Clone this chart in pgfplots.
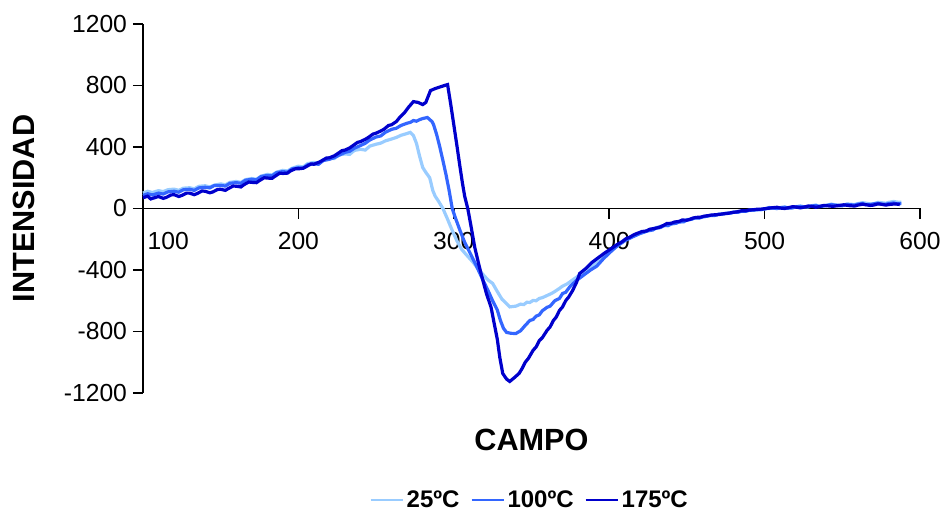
\documentclass[border=0pt]{standalone}
\usepackage{fontspec}
\setmainfont{Liberation Sans}
\usepackage{pgfplots}
\pgfplotsset{compat=1.18}
\definecolor{cLight}{RGB}{153,204,255}
\definecolor{cMed}{RGB}{51,102,255}
\definecolor{cDark}{RGB}{0,0,204}
\begin{document}
\begin{tikzpicture}
\begin{axis}[
  scale only axis,
  width=582.75pt, height=276.75pt,
  xmin=100, xmax=600, ymin=-1200, ymax=1200,
  axis y line*=left, axis x line*=middle,
  axis line style={line width=1.2pt, black},
  tick style={line width=1.2pt, black},
  tick align=outside,
  major tick length=7.5pt,
  xtick={200,300,400,500,600},
  xticklabels={200,300,400,500,600},
  extra x ticks={100},
  extra x tick labels={100},
  extra x tick style={xticklabel style={xshift=19pt}},
  ytick={-1200,-800,-400,0,400,800,1200},
  yticklabels={-1200,-800,-400,0,400,800,1200},
  tick label style={font=\fontsize{18.5}{21}\selectfont},
  yticklabel style={xshift=-1pt},
  xticklabel style={yshift=-7pt},
  xlabel={CAMPO}, ylabel={INTENSIDAD},
  xlabel style={font=\fontsize{23}{26}\selectfont\bfseries, at={(axis description cs:0.5,-0.127)}, anchor=center},
  ylabel style={font=\fontsize{23}{26}\selectfont\bfseries, at={(axis description cs:-0.153,0.5)}, anchor=center},
  legend style={draw=none, at={(axis description cs:0.498,-0.29)}, anchor=center,
    font=\fontsize{18}{21}\selectfont\bfseries, legend columns=3,
    /tikz/every even column/.append style={column sep=6pt}},
  legend image code/.code={\draw[#1, line width=2pt] (0pt,0pt) -- (24pt,0pt);},
  clip=false,
]
\addplot[cLight, line width=2.4pt] coordinates {
(100,100)(103,112)(106,104)(110,116)(113,110)(116,122)(120,126)(123,118)(126,132)(130,135)(133,128)(136,144)(140,148)(143,140)(146,152)
(150,160)(153,154)(156,170)(160,176)(163,170)(166,188)(170,195)(173,190)(176,210)(180,222)(183,218)(186,236)(190,248)(193,244)(196,262)
(200,275)(203,270)(206,292)(210,300)(213,296)(216,318)(220,330)(223,325)(226,348)(230,355)(233,352)(236,378)(240,385)(243,380)(246,406)
(250,418)(253,425)(256,440)(260,452)(263,462)(266,476)(268,482)(270,488)(272,495)(274,475)(276,423)(278,340)(280,267)
(282,235)(284.5,200)(286.5,117)(288,80)(290,50)(293,0)(296,-70)(299,-143)(302,-210)(305,-265)
(308,-300)(312,-345)(315,-383)(318,-420)(322,-465)(325,-487)(328,-540)(331,-590)(334,-620)(336,-640)
(340,-635)(343,-622)(345,-625)(347,-610)(349,-611)(351,-598)(353,-600)(355,-585)(357,-580)(360,-566)(363,-552)(365,-540)(368,-520)(370,-505)(373,-490)(376,-468)(380,-440)
(385,-400)(390,-365)(395,-320)(400,-280)(405,-245)(410,-205)(415,-180)(420,-160)(425,-145)(430,-125)
(435,-110)(438,-112)(440,-100)(443,-96)(445,-85)(448,-84)(450,-72)(453,-70)(455,-60)(458,-62)(460,-55)(463,-50)(465,-45)(468,-44)(470,-38)(473,-36)(475,-30)(478,-30)(480,-22)
(483,-24)(485,-18)(488,-16)(490,-12)(493,-12)(495,-8)(498,-8)(500,-2)(503,0)(505,2)(508,0)(510,6)(513,10)(515,5)(518,6)(520,12)(523,16)(525,10)(528,12)(530,18)
(533,22)(535,16)(538,18)(540,22)(543,28)(545,25)(548,22)(550,20)(553,30)(555,28)(558,26)(560,32)(563,38)(565,35)(568,30)(570,30)(573,40)(575,38)(578,34)(580,40)(583,46)(585,42)(588,40)
};
\addlegendentry{25ºC}
\addplot[cMed, line width=2.4pt] coordinates {
(100,85)(103,96)(106,88)(110,100)(113,94)(116,108)(120,112)(123,106)(126,122)(130,125)(133,118)(136,134)(140,138)(143,134)(146,150)
(150,150)(153,146)(156,164)(160,168)(163,164)(166,184)(170,190)(173,186)(176,208)(180,215)(183,212)(186,234)(190,240)(193,236)(196,258)
(200,265)(203,262)(206,284)(210,290)(213,288)(216,312)(220,320)(223,330)(226,346)(230,365)(233,372)(236,392)(240,410)(243,424)(246,446)
(250,465)(253,472)(256,496)(260,515)(263,522)(266,540)(270,555)(272,560)(274,572)(276,568)(278,578)(280,585)(283,592)(286,565)
(287,545)(289,480)(291,400)(293,312)(295,220)(297,117)(299,0)(301,-60)(304,-143)(307,-220)
(311,-300)(315,-383)(319,-470)(322,-533)(325,-600)(328,-660)(330,-728)(332,-780)(334,-806)(337,-812)
(340,-813)(343,-795)(346,-760)(349,-728)(351,-722)(353,-700)(355,-692)(357,-665)(360,-643)(362,-635)(365,-600)(368,-585)(370,-553)(372,-545)(375,-505)
(379,-468)(384,-430)(388,-400)(392,-375)(396,-330)(400,-290)(405,-245)(410,-210)(415,-185)(420,-162)
(425,-145)(428,-140)(430,-128)(433,-124)(435,-112)(438,-110)(440,-100)(443,-96)(445,-88)(448,-86)(450,-75)(453,-70)(455,-62)(458,-62)(460,-55)(463,-50)(465,-45)(468,-45)(470,-38)
(473,-36)(475,-32)(478,-30)(480,-25)(483,-24)(485,-18)(488,-18)(490,-12)(493,-10)(495,-8)(498,-6)(500,-3)(503,6)(505,3)(508,0)(510,5)(513,8)(515,2)(518,4)(520,10)
(523,14)(525,12)(528,10)(530,15)(533,20)(535,12)(538,16)(540,20)(543,26)(545,22)(548,18)(550,18)(553,26)(555,25)(558,22)(560,28)(563,32)(565,25)(568,26)(570,30)(573,34)(575,28)(578,28)(580,32)(583,36)(585,30)(588,32)
};
\addlegendentry{100ºC}
\addplot[cDark, line width=2.4pt] coordinates {
(100,70)(103,80)(105,62)(108,72)(110,78)(113,66)(115,72)(118,88)(120,90)(123,78)(125,85)(128,100)(130,100)(133,90)(135,98)(138,114)(140,112)(143,102)(145,108)
(148,124)(150,125)(153,118)(155,130)(158,146)(160,145)(163,140)(165,155)(168,172)(170,170)(173,168)(175,182)(178,200)(180,198)(183,196)(185,210)(188,230)(190,228)(193,230)(195,245)
(198,258)(200,258)(203,262)(205,272)(208,290)(210,288)(213,300)(215,310)(218,328)(220,330)(223,342)(225,355)(228,376)(230,380)(233,394)(235,408)(238,430)(240,435)(243,450)(245,462)
(248,484)(250,490)(253,504)(255,515)(258,540)(260,545)(263,565)(265,590)(268,620)(271,660)(274,695)(277,690)(280,676)(282,690)
(285,767)(288,780)(291,790)(294,800)(296,806)(298,680)(300,545)(302,410)(304,270)(305.5,170)
(307,80)(309,0)(311,-110)(313.5,-253)(316,-360)(318,-440)(321,-553)(324,-643)(326,-748)(328,-850)
(329.6,-968)(331.5,-1073)(334,-1110)(336,-1125)(339,-1100)(342,-1073)(344,-1040)(346,-1000)(348,-975)(351,-923)(353,-900)(355,-860)(357,-840)(360,-793)
(362,-770)(364,-730)(366,-705)(368,-663)(370,-640)(372,-600)(374,-575)(376.5,-533)(379,-480)(381,-423)(385,-390)(389,-350)(393,-320)(397,-290)(400,-270)
(405,-235)(408,-218)(411,-195)(413,-188)(416,-170)(418,-162)(421,-150)(424,-146)(426,-135)(429,-130)(432,-123)(435,-110)(437,-98)(440,-96)(442,-88)(445,-84)(447,-75)(450,-76)(452,-70)
(454,-62)(456,-58)(459,-56)(461,-50)(464,-46)(466,-42)(470,-40)(473,-35)(476,-32)(479,-26)(482,-22)(485,-15)(488,-14)(490,-10)(493,-8)(495,-5)(498,-4)(501,0)(503,2)(505,5)
(508,8)(510,3)(513,0)(516,7)(518,12)(520,10)(523,4)(525,8)(528,16)(530,15)(533,8)(535,12)(538,20)(540,18)(544,14)(548,20)(551,24)(555,18)(558,16)(560,22)(563,28)(565,25)(568,20)(570,22)(573,30)(575,28)(578,22)(580,26)(584,30)(587,26)
};
\addlegendentry{175ºC}
\end{axis}
\path (current axis.south west) ++(-107.25pt,-89.25pt) coordinate (bbA);
\path (current axis.north east) ++(18.75pt,18pt) coordinate (bbB);
\path (bbA) rectangle (bbB);
\end{tikzpicture}
\end{document}
